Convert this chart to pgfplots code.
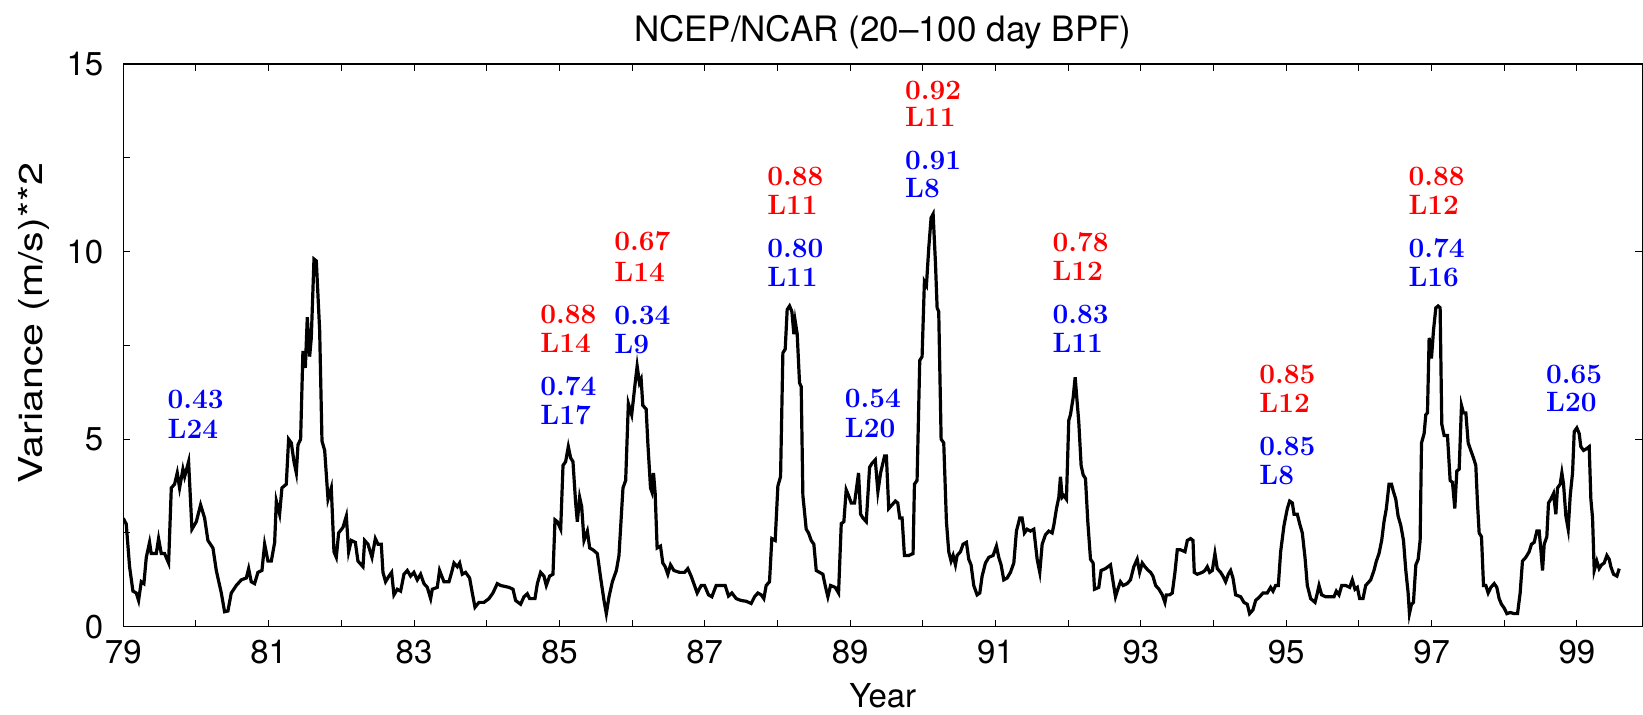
\documentclass[border=0pt]{standalone}
\usepackage{fontspec}
\usepackage{pgfplots}
\pgfplotsset{compat=1.18}
\newfontfamily\hv{TeX Gyre Heros}
\newfontfamily\hvwide{TeX Gyre Heros}[FakeStretch=1.25]
\definecolor{lred}{rgb}{1,0,0}
\definecolor{lblue}{rgb}{0,0,1}
\newcommand\lab[4]{\node[anchor=base west, inner sep=0pt, text=#3, font=\fontsize{14}{15}\selectfont\bfseries] at (axis cs:#1,#2) {#4};}
\begin{document}
\begin{tikzpicture}
\begin{axis}[
  name=ax, at={(0,0)}, anchor=south west,
  scale only axis, width=759.85pt, height=281.5pt,
  xmin=79, xmax=99.9, ymin=0, ymax=15,
  xtick={79,81,...,99}, minor xtick={80,82,...,98},
  ytick={0,5,10,15}, minor ytick={2.5,7.5,12.5},
  ytick pos=left,
  tick align=inside,
  major tick length=3.6pt, minor tick length=3.6pt,
  every tick/.style={line width=0.5pt, black},
  axis line style={line width=0.7pt},
  tick label style={font=\hv\fontsize{16.5}{18}\selectfont},
  /pgf/number format/assume math mode=true,
  xticklabel style={yshift=-3pt},
  yticklabel style={xshift=-6.5pt},
]
\addplot[black, line width=1.6pt] coordinates {
(79.000,2.89)(79.041,2.74)(79.087,1.6)(79.133,0.95)(79.179,0.9)(79.211,0.7)(79.248,1.2)(79.284,1.15)(79.317,1.85)(79.362,2.25)(79.385,1.95)(79.454,1.95)(79.486,2.35)(79.523,1.95)(79.569,1.95)(79.624,1.7)(79.661,3.7)(79.706,3.8)(79.743,4.1)(79.775,3.7)(79.821,4.2)(79.844,4.0)(79.899,4.4)(79.945,2.6)(80.005,2.8)(80.064,3.25)(80.119,2.9)(80.165,2.3)(80.234,2.1)(80.280,1.5)(80.349,0.9)(80.394,0.4)(80.440,0.42)(80.486,0.9)(80.555,1.1)(80.624,1.25)(80.693,1.3)(80.725,1.55)(80.761,1.2)(80.807,1.15)(80.853,1.45)(80.908,1.5)(80.945,2.2)(80.991,1.75)(81.037,1.75)(81.083,2.25)(81.106,3.35)(81.151,3.0)(81.183,3.7)(81.243,3.8)(81.275,5.0)(81.312,4.9)(81.349,4.4)(81.381,4.1)(81.404,4.85)(81.440,5.0)(81.472,7.35)(81.505,6.9)(81.532,8.25)(81.564,7.2)(81.587,7.7)(81.624,9.8)(81.656,9.75)(81.702,7.9)(81.734,4.95)(81.771,4.7)(81.817,3.4)(81.862,3.7)(81.899,2.0)(81.931,1.85)(81.963,2.5)(82.023,2.65)(82.069,2.95)(82.101,2.0)(82.138,2.3)(82.193,2.25)(82.229,1.75)(82.298,1.6)(82.321,2.3)(82.367,2.2)(82.422,1.85)(82.468,2.35)(82.505,2.2)(82.550,2.2)
(82.573,1.45)(82.609,1.2)(82.655,1.35)(82.692,1.45)(82.724,0.85)(82.770,1.0)(82.816,0.95)(82.862,1.4)(82.908,1.5)(82.953,1.35)(82.999,1.45)(83.045,1.25)(83.091,1.4)(83.137,1.15)(83.183,1.05)(83.229,0.75)(83.252,1.0)(83.320,1.05)(83.352,1.5)(83.412,1.2)(83.481,1.2)(83.518,1.45)(83.550,1.7)(83.596,1.6)(83.628,1.7)(83.664,1.4)(83.710,1.45)(83.765,1.3)(83.802,0.9)(83.839,0.52)(83.894,0.65)(83.963,0.65)(84.031,0.75)(84.086,0.9)(84.146,1.15)(84.192,1.1)(84.307,1.05)(84.362,1.0)(84.398,0.7)(84.467,0.6)(84.513,0.8)(84.559,0.88)(84.591,0.75)(84.664,0.75)(84.697,1.15)(84.742,1.45)(84.788,1.35)(84.820,1.1)(84.866,1.35)(84.912,1.4)(84.940,2.85)(84.972,2.8)(85.018,2.6)(85.050,4.3)(85.086,4.4)(85.123,4.8)(85.155,4.5)(85.187,4.4)(85.224,3.3)(85.247,2.8)(85.279,3.45)(85.307,3.2)(85.339,2.3)(85.385,2.55)(85.417,2.1)(85.463,2.05)(85.522,1.95)(85.568,1.3)(85.614,0.7)(85.646,0.35)(85.683,0.8)(85.729,1.2)(85.784,1.5)(85.820,1.9)(85.875,3.7)(85.912,3.9)(85.949,5.95)(85.995,5.65)
(86.043,6.5)(86.070,6.95)(86.102,6.5)(86.125,6.6)(86.148,5.9)(86.194,5.8)(86.217,4.9)(86.254,3.7)(86.272,3.6)(86.295,4.1)(86.318,3.55)(86.345,2.1)(86.391,2.15)(86.423,1.7)(86.456,1.6)(86.492,1.4)(86.529,1.65)(86.575,1.5)(86.653,1.45)(86.722,1.45)(86.767,1.55)(86.813,1.35)(86.850,1.15)(86.896,0.9)(86.951,1.1)(86.997,1.1)(87.052,0.85)(87.098,0.8)(87.157,1.1)(87.217,1.1)(87.281,1.1)(87.327,0.82)(87.373,0.9)(87.433,0.75)(87.501,0.7)(87.570,0.68)(87.639,0.62)(87.685,0.8)(87.731,0.9)(87.777,0.85)(87.813,0.75)(87.845,1.1)(87.891,1.2)(87.923,2.35)(87.969,2.3)(88.006,3.75)(88.043,4.0)(88.075,7.3)(88.107,7.4)(88.134,8.45)(88.167,8.55)(88.199,8.4)(88.226,7.8)(88.244,8.15)(88.272,7.8)(88.304,6.5)(88.327,6.4)(88.350,3.5)(88.396,2.6)(88.428,2.5)(88.465,2.3)(88.501,2.2)(88.534,1.5)(88.579,1.45)(88.625,1.4)(88.657,1.1)(88.694,0.8)(88.731,1.1)(88.795,1.05)(88.841,0.9)(88.878,2.75)(88.914,2.8)(88.946,3.65)(88.978,3.5)(89.015,3.3)(89.061,3.3)(89.116,4.1)(89.144,3.0)(89.176,2.9)(89.222,2.8)(89.268,4.25)(89.300,4.35)(89.346,4.45)(89.382,3.6)(89.419,4.1)(89.474,4.55)
(89.499,4.55)(89.531,3.15)(89.577,3.25)(89.623,3.35)(89.655,3.3)(89.683,2.9)(89.715,2.9)(89.747,1.9)(89.807,1.9)(89.866,1.95)(89.885,3.8)(89.921,3.9)(89.958,7.1)(89.990,7.2)(90.022,9.2)(90.050,9.1)(90.082,10.1)(90.114,10.9)(90.142,11.0)(90.174,9.7)(90.197,8.5)(90.219,8.4)(90.252,5.0)(90.288,4.9)(90.325,2.8)(90.357,2.0)(90.389,1.75)(90.417,1.9)(90.449,1.65)(90.472,1.9)(90.518,2.0)(90.554,2.2)(90.600,2.25)(90.632,1.8)(90.664,1.65)(90.701,1.1)(90.747,0.85)(90.784,0.9)(90.816,1.35)(90.862,1.7)(90.908,1.85)(90.967,1.9)(91.013,2.15)(91.045,1.85)(91.077,1.65)(91.114,1.25)(91.160,1.3)(91.206,1.45)(91.252,1.7)(91.288,2.55)(91.334,2.9)(91.366,2.9)(91.398,2.5)(91.435,2.6)(91.481,2.55)(91.527,2.6)(91.573,1.8)(91.609,1.45)(91.642,2.2)(91.687,2.45)(91.733,2.55)(91.779,2.5)(91.802,2.7)(91.839,3.15)(91.871,3.45)(91.894,4.0)(91.917,3.45)(91.940,3.5)(91.976,3.4)(92.008,5.5)(92.031,5.65)(92.068,6.1)(92.096,6.65)(92.123,6.0)(92.146,5.45)(92.178,4.3)(92.206,4.05)(92.238,3.95)(92.270,2.8)(92.307,1.8)(92.343,1.7)(92.362,1.0)(92.421,1.05)(92.453,1.5)(92.513,1.55)(92.582,1.65)(92.618,1.2)(92.651,0.8)(92.683,1.0)(92.719,1.2)(92.756,1.1)(92.811,1.15)(92.857,1.25)(92.903,1.6)(92.949,1.8)
(92.983,1.45)(93.019,1.7)(93.056,1.6)(93.102,1.5)(93.134,1.45)(93.166,1.35)(93.203,1.1)(93.249,1.0)(93.295,0.85)(93.331,0.65)(93.350,0.85)(93.396,0.85)(93.432,0.9)(93.469,1.45)(93.501,2.05)(93.547,2.05)(93.607,2.0)(93.639,2.3)(93.684,2.35)(93.717,2.3)(93.735,1.45)(93.776,1.4)(93.845,1.45)(93.882,1.5)(93.914,1.6)(93.946,1.45)(93.983,1.5)(94.019,1.95)(94.051,1.55)(94.097,1.45)(94.129,1.35)(94.166,1.2)(94.203,1.4)(94.235,1.5)(94.267,1.3)(94.304,0.85)(94.373,0.8)(94.418,0.65)(94.464,0.6)(94.496,0.35)(94.542,0.45)(94.579,0.7)(94.634,0.8)(94.680,0.9)(94.739,0.9)(94.785,1.05)(94.818,0.95)(94.854,1.1)(94.891,1.1)(94.923,2.0)(94.969,2.7)(95.015,3.15)(95.047,3.35)(95.084,3.3)(95.107,3.0)(95.152,3.0)(95.184,2.75)(95.221,2.5)(95.258,1.85)(95.290,1.1)(95.336,0.75)(95.396,0.65)(95.428,0.9)(95.451,1.1)(95.487,0.85)(95.542,0.8)(95.597,0.8)(95.657,0.8)(95.689,0.95)(95.726,0.85)(95.763,1.1)(95.818,1.1)(95.873,1.05)(95.909,1.25)(95.946,1.0)(95.978,1.05)(96.010,0.75)(96.056,0.75)(96.093,1.1)(96.162,1.25)(96.207,1.5)(96.240,1.75)(96.276,1.95)(96.313,2.3)(96.345,2.8)(96.377,3.15)(96.414,3.8)
(96.448,3.8)(96.475,3.6)(96.507,3.4)(96.539,2.95)(96.576,2.7)(96.613,2.3)(96.645,1.5)(96.677,0.9)(96.695,0.35)(96.723,0.6)(96.750,0.65)(96.783,1.65)(96.815,1.8)(96.842,2.3)(96.861,4.9)(96.897,5.15)(96.920,5.65)(96.943,5.7)(96.966,7.7)(96.998,7.15)(97.026,7.9)(97.058,8.5)(97.090,8.55)(97.117,8.5)(97.140,5.4)(97.172,5.1)(97.218,5.1)(97.255,3.9)(97.287,3.85)(97.319,3.15)(97.347,4.15)(97.379,4.2)(97.411,5.9)(97.438,5.7)(97.471,5.7)(97.503,4.9)(97.539,4.7)(97.576,4.5)(97.608,4.3)(97.631,3.3)(97.654,2.5)(97.686,2.4)(97.714,1.1)(97.746,1.1)(97.778,0.9)(97.815,1.05)(97.861,1.15)(97.897,1.05)(97.929,0.75)(97.961,0.6)(97.998,0.5)(98.035,0.35)(98.081,0.38)(98.136,0.35)(98.182,0.35)(98.218,0.9)(98.250,1.75)(98.296,1.85)(98.342,2.0)(98.374,2.2)(98.411,2.25)(98.448,2.55)(98.480,2.55)(98.503,2.05)(98.526,1.5)(98.549,2.2)(98.585,2.4)(98.608,3.3)(98.640,3.4)(98.677,3.55)(98.709,3.0)(98.732,3.7)(98.769,3.8)(98.792,4.1)(98.815,3.8)(98.847,2.95)(98.879,2.6)(98.907,3.5)(98.939,4.1)(98.962,5.2)(98.998,5.3)(99.030,5.15)(99.053,4.8)(99.090,4.7)(99.136,4.75)(99.168,4.8)(99.191,3.4)(99.214,2.9)(99.237,1.5)(99.273,1.75)(99.305,1.55)(99.338,1.65)(99.374,1.7)(99.411,1.9)(99.443,1.8)(99.466,1.6)(99.503,1.4)(99.549,1.35)(99.581,1.55)
};
\lab{79.606}{5.81}{lblue}{0.43}
\lab{79.606}{5.02}{lblue}{L24}
\lab{84.733}{8.08}{lred}{0.88}
\lab{84.733}{7.32}{lred}{L14}
\lab{84.733}{6.17}{lblue}{0.74}
\lab{84.733}{5.39}{lblue}{L17}
\lab{85.752}{10.03}{lred}{0.67}
\lab{85.752}{9.21}{lred}{L14}
\lab{85.752}{8.06}{lblue}{0.34}
\lab{85.752}{7.29}{lblue}{L9}
\lab{87.855}{11.76}{lred}{0.88}
\lab{87.855}{11.0}{lred}{L11}
\lab{87.855}{9.85}{lblue}{0.80}
\lab{87.855}{9.08}{lblue}{L11}
\lab{88.923}{5.84}{lblue}{0.54}
\lab{88.923}{5.04}{lblue}{L20}
\lab{89.752}{14.05}{lred}{0.92}
\lab{89.752}{13.32}{lred}{L11}
\lab{89.752}{12.18}{lblue}{0.91}
\lab{89.752}{11.43}{lblue}{L8}
\lab{91.779}{10.0}{lred}{0.78}
\lab{91.779}{9.23}{lred}{L12}
\lab{91.779}{8.08}{lblue}{0.83}
\lab{91.779}{7.32}{lblue}{L11}
\lab{94.625}{6.49}{lred}{0.85}
\lab{94.625}{5.71}{lred}{L12}
\lab{94.625}{4.57}{lblue}{0.85}
\lab{94.625}{3.79}{lblue}{L8}
\lab{96.677}{11.76}{lred}{0.88}
\lab{96.677}{11.0}{lred}{L12}
\lab{96.677}{9.83}{lblue}{0.74}
\lab{96.677}{9.08}{lblue}{L16}
\lab{98.571}{6.49}{lblue}{0.65}
\lab{98.571}{5.74}{lblue}{L20}
\end{axis}
\begin{axis}[
  at={(0,0)}, anchor=south west,
  scale only axis, width=759.85pt, height=281.5pt,
  xmin=79, xmax=99.9, ymin=0, ymax=15,
  hide x axis, axis y line*=right,
  ytick={0,5,10,15}, yticklabels={},
  tick align=inside, major tick length=3.6pt,
  every tick/.style={line width=0.5pt, black},
  axis line style={line width=0.7pt},
]
\addplot[draw=none] coordinates {(80,1)};
\end{axis}
\node[anchor=base, font=\hv\fontsize{17.5}{20}\selectfont] at ([yshift=11pt]ax.north) {NCEP/NCAR (20–100 day BPF)};
\node[anchor=base, font=\hv\fontsize{16.5}{18}\selectfont] at ([yshift=-40.5pt]ax.south) {Year};
\node[rotate=90, anchor=base west, inner sep=0pt, font=\hvwide\fontsize{16.5}{18}\selectfont] at ([xshift=-40.5pt,yshift=71.5pt]ax.south west) {Variance (m/s)**2};
\pgfresetboundingbox
\path[use as bounding box] ([xshift=-61.65pt,yshift=-44pt]ax.south west) rectangle ([xshift=0.3pt,yshift=32pt]ax.north east);
\end{tikzpicture}
\end{document}
